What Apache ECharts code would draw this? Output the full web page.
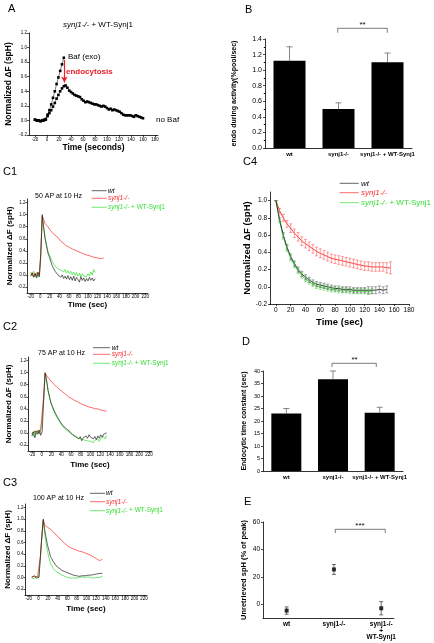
<!DOCTYPE html>
<html><head><meta charset="utf-8">
<script src="https://cdn.jsdelivr.net/npm/echarts@6/dist/echarts.min.js"></script>
<style>html,body{margin:0;padding:0;background:#fff}#c{width:434px;height:643px}</style>
</head><body><div id="c"></div><script>
// ---------- DATA ----------
// Panel A
const aTime = [-20,-17,-14,-11,-8,-5,-2,1,4,7,10,13,16,19,22,25,28,31,34,37,40,43,46,49,52,55,58,61,64,67,70,73,76,79,82,85,88,91,94,97,100,103,106,109,112,115,118,121,124,127,130,133,136,139,142,145,148,151,154,157,160];
const aBaf = [0.01,0.0,0.0,-0.01,0.0,0.01,0.02,0.08,0.14,0.22,0.31,0.40,0.50,0.59,0.68,0.77,0.86];
const aNoBaf = [0.01,0.0,0.0,-0.01,0.0,0.0,0.01,0.06,0.10,0.14,0.19,0.24,0.30,0.35,0.40,0.44,0.47,0.48,0.45,0.41,0.39,0.37,0.35,0.34,0.33,0.32,0.29,0.27,0.25,0.26,0.25,0.24,0.23,0.22,0.22,0.21,0.20,0.19,0.20,0.19,0.17,0.15,0.16,0.14,0.15,0.14,0.13,0.12,0.10,0.08,0.07,0.07,0.07,0.07,0.06,0.05,0.07,0.06,0.05,0.04,0.03];
// Panels B, D, E
const groups = ['wt','synj1-/-','synj1-/- + WT-Synj1'];
const bEndo = [1.12,0.50,1.10];
const bErr = [0.18,0.08,0.12];
const dTau = [23.0,36.7,23.3];
const dErr = [2.0,3.3,2.2];
const eUnret = [-4.6,25.4,-2.9];
const eErr = [2.7,3.6,4.8];
const eLabels = ['wt','synj1-/-','synj1-/-\n+\nWT-Synj1'];
// Panels C1-C3 (shared time base, seconds)
const cTime = [-20,-17,-14,-11,-8,-5,-2,1,4,7,10,13,16,19,22,25,28,31,34,37,40,43,46,49,52,55,58,61,64,67,70,73,76,79,82,85,88,91,94,97,100,103,106,109,112,115,118,121,124,127,130,133];
const c1Wt = [-0.02,0.03,-0.04,0.02,-0.05,0.04,-0.03,0.35,1.0,0.78,0.6,0.48,0.36,0.3,0.22,0.15,0.12,0.06,0.05,0.0,0.03,-0.04,0.0,-0.06,-0.02,-0.07,-0.01,-0.08,-0.03,-0.09,-0.02,-0.1,-0.04,-0.08,-0.12,-0.03,-0.09,-0.05,-0.11,-0.06,-0.1,-0.04,-0.09,-0.05,-0.1,-0.06,null,null,null,null,null,null];
const c1Res = [0.05,-0.02,0.06,-0.03,0.04,-0.04,0.02,0.3,0.97,0.8,0.62,0.5,0.4,0.33,0.28,0.22,0.2,0.15,0.17,0.1,0.13,0.08,0.1,0.05,0.09,0.03,0.07,0.02,0.06,0.0,0.05,-0.01,0.04,-0.02,0.03,-0.03,0.02,-0.02,0.01,-0.03,0.02,-0.02,0.05,0.0,0.09,0.04,null,null,null,null,null,null];
const c1Ko = [0.0,0.04,-0.03,0.03,-0.02,0.05,0.0,0.4,0.98,0.92,0.85,0.88,0.8,0.76,0.78,0.7,0.72,0.66,0.68,0.62,0.63,0.56,0.58,0.52,0.54,0.48,0.5,0.46,0.47,0.43,0.45,0.41,0.42,0.39,0.4,0.37,0.38,0.35,0.37,0.33,0.35,0.32,0.34,0.3,0.33,0.29,0.32,0.28,0.31,0.27,0.3,0.28];
const c2Wt = [-0.05,0.02,-0.08,0.03,-0.02,0.05,-0.04,0.02,0.55,1.0,0.88,0.7,0.6,0.5,0.44,0.38,0.33,0.3,0.24,0.2,0.16,0.14,0.1,0.12,0.06,0.08,0.02,0.04,-0.03,-0.01,-0.06,-0.03,-0.1,-0.06,-0.13,-0.08,-0.11,-0.05,-0.09,-0.03,-0.07,-0.04,-0.1,-0.06,-0.11,-0.05,-0.09,-0.03,-0.07,-0.02,-0.05,0.0];
const c2Res = [0.0,-0.06,0.04,-0.03,0.05,-0.02,0.06,0.03,0.5,0.98,0.86,0.72,0.6,0.5,0.42,0.36,0.3,0.27,0.22,0.18,0.14,0.12,0.08,0.09,0.04,0.05,0.0,0.01,-0.04,-0.03,-0.07,-0.05,-0.09,-0.07,-0.1,-0.08,-0.12,-0.09,-0.13,-0.1,-0.14,-0.11,-0.16,-0.12,-0.15,-0.1,-0.14,-0.09,-0.12,-0.06,-0.1,-0.04];
const c2Ko = [0.0,-0.03,0.02,0.0,0.03,-0.01,0.04,0.05,0.6,0.99,0.96,0.92,0.9,0.86,0.84,0.81,0.79,0.76,0.74,0.72,0.7,0.68,0.66,0.64,0.62,0.6,0.59,0.57,0.56,0.54,0.53,0.52,0.5,0.49,0.48,0.47,0.46,0.45,0.44,0.43,0.42,0.42,0.41,0.4,0.39,0.4,0.38,0.38,0.37,0.37,0.36,0.36];
const c3Wt = [null,null,0.01,-0.02,0.03,-0.01,0.02,0.0,0.35,0.7,1.0,0.82,0.68,0.55,0.46,0.36,0.32,0.27,0.24,0.2,0.19,0.16,0.15,0.12,0.12,0.1,0.1,0.08,0.09,0.06,0.07,0.04,0.06,0.03,0.05,0.02,0.05,0.03,0.06,0.03,0.06,0.04,0.07,0.04,0.06,0.05,0.08,0.06,0.09,0.07,0.08,0.07];
const c3Res = [null,null,-0.01,0.01,-0.02,0.02,0.0,0.01,0.33,0.68,0.97,0.76,0.58,0.44,0.33,0.25,0.2,0.15,0.12,0.1,0.08,0.07,0.05,0.04,0.03,0.02,0.02,0.0,0.01,-0.01,-0.02,-0.01,-0.03,-0.01,-0.02,0.0,-0.02,0.01,-0.01,0.0,-0.02,0.01,-0.01,0.0,0.02,-0.01,0.01,0.0,0.02,0.0,0.01,0.02];
const c3Ko = [null,null,0.0,-0.02,0.02,-0.01,0.01,0.0,0.35,0.7,0.99,0.9,0.88,0.86,0.84,0.83,0.8,0.78,0.75,0.73,0.7,0.68,0.66,0.63,0.61,0.58,0.56,0.54,0.53,0.51,0.5,0.49,0.48,0.47,0.46,0.45,0.44,0.44,0.43,0.42,0.41,0.4,0.39,0.38,0.36,0.35,0.33,0.32,0.3,0.29,0.3,0.31];
// Panel C4 (mean +/- SEM)
const c4Time = [0,5,10,15,20,25,30,35,40,45,50,55,60,65,70,75,80,85,90,95,100,105,110,115,120,125,130,135,140,145,150,155];
const c4Wt = [1.0,0.78,0.6,0.46,0.35,0.27,0.2,0.15,0.11,0.08,0.05,0.03,0.02,0.01,0.0,-0.01,-0.02,-0.02,-0.03,-0.03,-0.03,-0.04,-0.04,-0.04,-0.04,-0.04,-0.04,-0.04,-0.03,-0.04,-0.03,null];
const c4WtErr = [0,0.02,0.03,0.03,0.03,0.03,0.03,0.03,0.03,0.03,0.03,0.03,0.03,0.03,0.03,0.03,0.03,0.03,0.03,0.03,0.03,0.03,0.03,0.03,0.03,0.04,0.04,0.04,0.04,0.04,0.04,null];
const c4Res = [1.0,0.76,0.58,0.44,0.33,0.25,0.18,0.13,0.09,0.06,0.03,0.01,0.0,-0.01,-0.02,-0.03,-0.03,-0.04,-0.04,-0.04,-0.05,-0.05,-0.05,-0.05,-0.05,-0.06,-0.05,null,null,null,null,null];
const c4ResErr = [0,0.02,0.03,0.03,0.03,0.03,0.03,0.03,0.03,0.03,0.03,0.03,0.03,0.03,0.03,0.03,0.03,0.03,0.03,0.03,0.03,0.03,0.03,0.03,0.03,0.03,0.03,null,null,null,null,null];
const c4Ko = [1.0,0.88,0.8,0.73,0.68,0.62,0.58,0.53,0.5,0.47,0.44,0.41,0.39,0.37,0.35,0.33,0.32,0.31,0.3,0.29,0.28,0.27,0.26,0.25,0.24,0.24,0.23,0.23,0.23,0.23,0.22,0.22];
const c4KoErr = [0,0.03,0.04,0.04,0.05,0.05,0.05,0.05,0.05,0.05,0.05,0.05,0.05,0.05,0.05,0.05,0.05,0.05,0.05,0.05,0.05,0.05,0.05,0.05,0.05,0.05,0.05,0.05,0.05,0.05,0.06,0.07];
// tick label sets
const tickY12 = [-0.2,0,0.2,0.4,0.6,0.8,1.0,1.2];
const tickY10 = [-0.2,0,0.2,0.4,0.6,0.8,1.0];
const tickXA = [-20,0,20,40,60,80,100,120,140,160,180];
const tickXC = [-20,0,20,40,60,80,100,120,140,160,180,200,220];
const tickXC4 = [0,20,40,60,80,100,120,140,160,180];
const tickYE = [0,20,40,60];

// ---------- HELPERS ----------
const RED='#ff2a2a', GREEN='#33dd33', BLACK='#222';
function zip(t,v){const o=[];for(let i=0;i<t.length;i++){if(v[i]!=null)o.push([t[i],v[i]]);}return o;}
function zip3(t,v,e){const o=[];for(let i=0;i<t.length;i++){if(v[i]!=null)o.push([t[i],v[i],e[i]]);}return o;}
function merge(a,b){const o=Object.assign({},a);for(const k in b){const v=b[k];if(v&&typeof v==='object'&&!Array.isArray(v)&&a[k]&&typeof a[k]==='object'&&!Array.isArray(a[k]))o[k]=merge(a[k],v);else o[k]=v;}return o;}
const baseAxis={type:'value',nameLocation:'middle',axisLine:{show:true,onZero:false,lineStyle:{color:'#000',width:0.8}},axisTick:{show:true,length:2,lineStyle:{color:'#000',width:0.7}},splitLine:{show:false},axisLabel:{color:'#000',fontSize:5,margin:2},nameTextStyle:{color:'#000',fontWeight:'bold',fontSize:8}};
function ax(o){return merge(baseAxis,o);}
const f1=v=>v.toFixed(1);
function errRender(both,capW,color,lw){
  return function(params,api){
    const x=api.value(0),y=api.value(1),e=api.value(2);
    if(e==null||isNaN(e))return;
    const top=api.coord([x,y+e]);const bot=api.coord(both?[x,y-e]:[x,y]);
    const c=color;
    const ch=[{type:'line',shape:{x1:top[0],y1:top[1],x2:bot[0],y2:bot[1]},style:{stroke:c,lineWidth:lw}},
      {type:'line',shape:{x1:top[0]-capW,y1:top[1],x2:top[0]+capW,y2:top[1]},style:{stroke:c,lineWidth:lw}}];
    if(both)ch.push({type:'line',shape:{x1:bot[0]-capW,y1:bot[1],x2:bot[0]+capW,y2:bot[1]},style:{stroke:c,lineWidth:lw}});
    return {type:'group',children:ch};
  };
}
function errSeries(xi,data,both,capW,color,lw){return {type:'custom',xAxisIndex:xi,yAxisIndex:xi,data:data,renderItem:errRender(both,capW,color,lw),z:5,silent:true};}
function trace(xi,t,v,color,w){return {type:'line',xAxisIndex:xi,yAxisIndex:xi,data:zip(t,v),showSymbol:false,symbol:'none',lineStyle:{color:color,width:w},itemStyle:{color:color},silent:true};}

// ---------- GRIDS ----------
const grid=[
 {left:29,right:276,top:33,bottom:508},   //0 A
 {left:265,right:22,top:39,bottom:495},   //1 B
 {left:27,right:286,top:199,bottom:350},  //2 C1
 {left:28,right:282,top:357,bottom:192},  //3 C2
 {left:25,right:287,top:504,bottom:48},   //4 C3
 {left:270,right:25,top:192,bottom:339},  //5 C4
 {left:263,right:31,top:371,bottom:172},  //6 D
 {left:263,right:40,top:522,bottom:25}    //7 E
];
const cX = (gi,gap)=>ax({gridIndex:gi,min:-28,max:226,name:'Time (sec)',nameGap:gap,axisLabel:{customValues:tickXC,fontSize:4.5,margin:1.5},axisTick:{customValues:tickXC,length:1.5},nameTextStyle:{fontSize:8}});
const cY = (gi,gap)=>ax({gridIndex:gi,min:-0.3,max:1.26,name:'Normalized \u0394F (spH)',nameGap:gap,axisLabel:{customValues:tickY12,formatter:f1,fontSize:4.5,margin:1.5},axisTick:{customValues:tickY12,length:1.5},nameTextStyle:{fontSize:8}});
const catX = (gi)=>({type:'category',gridIndex:gi,data:groups,axisLine:{show:true,lineStyle:{color:'#000',width:0.8}},axisTick:{show:false},axisLabel:{color:'#000',fontSize:6,fontWeight:'bold',margin:3,interval:0}});

const xAxis=[
 ax({gridIndex:0,min:-30,max:185,name:'Time (seconds)',nameGap:8,axisLabel:{customValues:tickXA,fontSize:4.5},axisTick:{customValues:tickXA},nameTextStyle:{fontSize:8.5}}),
 catX(1),
 cX(2,8), cX(3,10), cX(4,10),
 ax({gridIndex:5,min:-8,max:180,name:'Time (sec)',nameGap:13,axisLabel:{customValues:tickXC4,fontSize:6.5,margin:3},axisTick:{customValues:tickXC4},nameTextStyle:{fontSize:9.5}}),
 catX(6),
 ax({gridIndex:7,min:0.5,max:3.27,axisTick:{show:false},axisLabel:{customValues:[1,2,3],formatter:v=>eLabels[Math.round(v)-1],fontSize:6.5,fontWeight:'bold',margin:3,lineHeight:6.5}})
];
const yAxis=[
 ax({gridIndex:0,min:-0.2,max:1.2,name:'Normalized \u0394F (spH)',nameGap:16,axisLabel:{customValues:tickY12,formatter:f1,fontSize:4.5},axisTick:{customValues:tickY12},nameTextStyle:{fontSize:8.5}}),
 ax({gridIndex:1,min:0,max:1.4,interval:0.2,name:'endo during activity(%pool/sec)',nameGap:27,axisLabel:{formatter:f1,fontSize:7,margin:3},nameTextStyle:{fontSize:7},minorTick:{show:true,splitNumber:2,length:1.2,lineStyle:{color:'#000'}}}),
 cY(2,13), cY(3,15), cY(4,13),
 ax({gridIndex:5,min:-0.2,max:1.1,name:'Normalized \u0394F (spH)',nameGap:17,axisLabel:{customValues:tickY10,formatter:f1,fontSize:6.5,margin:3},axisTick:{customValues:tickY10},nameTextStyle:{fontSize:9.5}}),
 ax({gridIndex:6,min:0,max:40,interval:5,name:'Endocytic time constant (sec)',nameGap:15,axisLabel:{fontSize:5.5,margin:3},nameTextStyle:{fontSize:7}}),
 ax({gridIndex:7,min:-10,max:60,name:'Unretrieved spH (% of peak)',nameGap:15,axisLabel:{customValues:tickYE,fontSize:6.5,margin:3},axisTick:{customValues:tickYE},nameTextStyle:{fontSize:7.5}})
];

const series=[
 // A
 {type:'line',xAxisIndex:0,yAxisIndex:0,data:zip(aTime,aBaf),symbol:'rect',symbolSize:2.6,itemStyle:{color:'#000'},lineStyle:{color:'#000',width:0.5},
  markLine:{silent:true,symbol:['none','arrow'],symbolSize:[5,6],label:{show:false},lineStyle:{color:'#e8202a',width:1.2,type:'solid'},data:[[{coord:[29,0.83]},{coord:[29,0.52]}]]}},
 {type:'line',xAxisIndex:0,yAxisIndex:0,data:zip(aTime,aNoBaf),symbol:'rect',symbolSize:2.6,itemStyle:{color:'#000'},lineStyle:{color:'#000',width:0.5}},
 // B
 {type:'bar',xAxisIndex:1,yAxisIndex:1,data:bEndo,barWidth:32,itemStyle:{color:'#000'}},
 errSeries(1,bEndo.map((v,i)=>[i,v,bErr[i]]),false,3,'#555',0.7),
 // C1
 trace(2,cTime,c1Res,GREEN,0.7), trace(2,cTime,c1Ko,RED,0.7), trace(2,cTime,c1Wt,BLACK,0.7),
 // C2
 trace(3,cTime,c2Res,GREEN,0.7), trace(3,cTime,c2Ko,RED,0.7), trace(3,cTime,c2Wt,BLACK,0.7),
 // C3
 trace(4,cTime,c3Res,GREEN,0.7), trace(4,cTime,c3Ko,RED,0.7), trace(4,cTime,c3Wt,BLACK,0.7),
 // C4
 errSeries(5,zip3(c4Time,c4Ko,c4KoErr),true,1.5,'#ff5a5a',0.6),
 errSeries(5,zip3(c4Time,c4Res,c4ResErr),true,1.5,'#55dd55',0.6),
 errSeries(5,zip3(c4Time,c4Wt,c4WtErr),true,1.5,'#666',0.6),
 trace(5,c4Time,c4Ko,RED,0.9), trace(5,c4Time,c4Res,GREEN,0.9), trace(5,c4Time,c4Wt,BLACK,0.9),
 // D
 {type:'bar',xAxisIndex:6,yAxisIndex:6,data:dTau,barWidth:30,itemStyle:{color:'#000'}},
 errSeries(6,dTau.map((v,i)=>[i,v,dErr[i]]),false,3,'#555',0.7),
 // E
 errSeries(7,eUnret.map((v,i)=>[i+1,v,eErr[i]]),true,2,'#333',0.7),
 {type:'scatter',xAxisIndex:7,yAxisIndex:7,data:eUnret.map((v,i)=>[i+1,v]),symbol:'rect',symbolSize:4,itemStyle:{color:'#000'},z:6}
];

// ---------- ANNOTATIONS ----------
function txt(x,y,text,o){return {type:'text',x:x,y:y,silent:true,style:Object.assign({text:text,fill:'#000',fontSize:10,fontFamily:'Liberation Sans',align:'left',verticalAlign:'middle'},o||{})};}
function ln(x1,y1,x2,y2,c,w){return {type:'line',silent:true,shape:{x1:x1,y1:y1,x2:x2,y2:y2},style:{stroke:c,lineWidth:w||0.8}};}
function bracket(x1,x2,y,d){return {type:'polyline',silent:true,shape:{points:[[x1,y+d],[x1,y],[x2,y],[x2,y+d]]},style:{stroke:'#444',lineWidth:0.7,fill:null}};}
function legend(x0,x1,tx,ys,fs){
  const it={fontStyle:'italic'};
  return [
   ln(x0,ys[0],x1,ys[0],BLACK,0.7), txt(tx,ys[0],'wt',{fontSize:fs,fontStyle:'italic',fill:'#000'}),
   ln(x0,ys[1],x1,ys[1],RED,0.7), txt(tx,ys[1],'synj1-/-',{fontSize:fs,fontStyle:'italic',fill:RED}),
   ln(x0,ys[2],x1,ys[2],GREEN,0.7), txt(tx,ys[2],'{i|synj1-/-} + WT-Synj1',{fontSize:fs,fill:GREEN,rich:{i:{fontStyle:'italic',fill:GREEN,fontSize:fs}}})
  ];
}
const graphic=[
 txt(8,9,'A',{fontSize:11}), txt(245,10,'B',{fontSize:11}),
 txt(3,172,'C1',{fontSize:11}), txt(3,327,'C2',{fontSize:11}), txt(3,483,'C3',{fontSize:11}),
 txt(243,162,'C4',{fontSize:11}), txt(242,342,'D',{fontSize:11}), txt(244,502,'E',{fontSize:11}),
 txt(98,25,'{i|synj1-/-} + WT-Synj1',{fontSize:8,align:'center',rich:{i:{fontStyle:'italic',fontSize:8}}}),
 txt(68,57,'Baf (exo)',{fontSize:8}),
 txt(66,72,'endocytosis',{fontSize:8,fill:'#e8202a',fontWeight:'bold'}),
 txt(156,120,'no Baf',{fontSize:8}),
 bracket(337.7,387.3,28.3,4.4), txt(362.5,25,'**',{fontSize:8,align:'center'}),
 bracket(332,376.3,363.3,3.7), txt(354.5,360,'**',{fontSize:8,align:'center'}),
 bracket(335.3,385.3,529.3,3.7), txt(360,526,'***',{fontSize:8,align:'center'}),
 txt(35,196,'50 AP at 10 Hz',{fontSize:7}),
 txt(38,353,'75 AP at 10 Hz',{fontSize:7}),
 txt(33,498,'100 AP at 10 Hz',{fontSize:7})
].concat(legend(91.7,106.7,108,[190.7,198.3,207.3],6.5))
 .concat(legend(93,110,111.7,[347.7,354.3,363.3],6.5))
 .concat(legend(90,105,106,[493.3,501.7,510.7],6.5))
 .concat(legend(339.7,358.7,361,[183.3,192.7,202.7],8));

const chart=echarts.init(document.getElementById('c'),null,{renderer:'canvas'});
chart.setOption({animation:false,backgroundColor:'#fff',textStyle:{fontFamily:'Liberation Sans'},grid:grid,xAxis:xAxis,yAxis:yAxis,series:series,graphic:graphic});
</script></body></html>
